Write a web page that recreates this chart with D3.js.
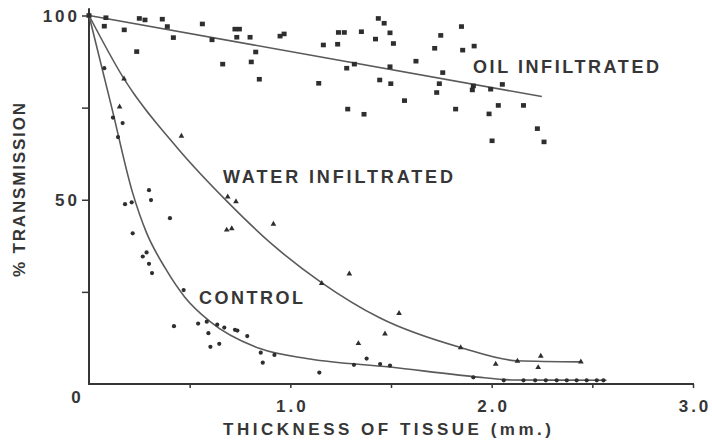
<!DOCTYPE html>
<html>
<head>
<meta charset="utf-8">
<script src="https://cdn.jsdelivr.net/npm/d3@7/dist/d3.min.js"></script>
<style>
  body { margin: 0; background: #fff; }
  svg { display: block; font-family: "Liberation Sans", Arial, sans-serif; font-weight: bold; }
</style>
</head>
<body>
<svg id="chart"></svg>
<script>
// measured data: [thickness mm, % transmission]
const oilPoints = [
  [0, 100], [0.084, 99.4], [0.076, 97.1], [0.175, 96.1], [0.237, 90.2], [0.25, 99.2],
  [0.278, 98.8], [0.364, 99.0], [0.389, 97.0], [0.419, 94.0], [0.563, 97.7], [0.611, 93.4],
  [0.664, 86.8], [0.725, 96.3], [0.747, 96.3], [0.734, 94.1], [0.80, 94.1], [0.828, 90.1],
  [0.806, 87.4], [0.846, 82.7], [0.949, 94.4], [0.969, 95.0], [1.141, 81.6], [1.164, 92.0],
  [1.235, 92.2], [1.239, 95.4], [1.268, 95.4], [1.28, 85.7], [1.285, 74.6], [1.318, 86.8],
  [1.353, 95.6], [1.366, 73.2], [1.437, 99.2], [1.466, 97.9], [1.423, 93.6], [1.495, 95.3],
  [1.512, 92.4], [1.495, 86.1], [1.444, 82.5], [1.499, 81.5], [1.567, 76.9], [1.624, 87.6],
  [1.717, 91.1], [1.747, 94.6], [1.85, 97.0], [1.856, 90.6], [1.913, 91.7], [1.757, 84.5],
  [1.740, 81.5], [1.727, 79.1], [1.821, 74.6], [1.909, 80.9], [1.904, 79.8], [1.995, 80.0],
  [2.053, 81.3], [2.033, 75.6], [1.987, 73.3], [2.002, 66.0], [2.158, 75.6], [2.227, 69.3],
  [2.260, 65.7]
];
const waterPoints = [
  [0.174, 82.8], [0.152, 75.2], [0.459, 67.3], [0.689, 50.8], [0.730, 49.5], [0.684, 41.8],
  [0.709, 42.2], [0.916, 43.4], [1.156, 27.3], [1.293, 29.9], [1.338, 11.0], [1.470, 13.6],
  [1.540, 19.2], [1.846, 9.9], [2.020, 5.4], [2.128, 6.2], [2.244, 7.6], [2.231, 4.5],
  [2.443, 6.0]
];
const controlPoints = [
  [0.076, 85.7], [0.119, 72.3], [0.167, 70.8], [0.144, 67.0], [0.298, 52.6], [0.308, 49.9],
  [0.179, 48.8], [0.212, 49.3], [0.402, 45.0], [0.217, 40.9], [0.267, 34.6], [0.286, 35.7],
  [0.298, 32.6], [0.313, 30.1], [0.470, 25.5], [0.422, 15.7], [0.542, 16.4], [0.585, 16.9],
  [0.593, 13.8], [0.603, 10.1], [0.647, 10.9], [0.637, 16.1], [0.672, 15.3], [0.725, 14.7],
  [0.737, 14.5], [0.786, 13.0], [0.853, 8.5], [0.863, 5.8], [0.921, 7.9], [1.144, 3.1],
  [1.316, 5.2], [1.379, 6.9], [1.446, 5.4], [1.495, 5.0], [1.909, 1.8], [2.06, 1.0],
  [2.158, 1.0], [2.216, 1.0], [2.269, 1.0], [2.323, 1.0], [2.373, 1.0], [2.422, 1.0],
  [2.472, 1.0], [2.522, 1.0], [2.555, 1.0]
];

// hand-fitted curves
const oilLine = [[0, 100], [2.249, 78]];
const waterCurve = [
  [0, 100], [0.174, 82.8], [0.44, 64], [0.687, 49.5], [0.916, 37.6], [1.153, 27.6],
  [1.446, 17.9], [1.846, 9.9], [2.128, 6.3], [2.443, 6.0]
];
const controlCurve = [
  [0, 100], [0.113, 75], [0.216, 52], [0.286, 41], [0.378, 31.5], [0.477, 23.5],
  [0.6, 17], [0.849, 9.6], [1.098, 6.8], [1.495, 4.6], [1.909, 2.0], [2.1, 1.1], [2.57, 1.0]
];

const xTicks = [0.5, 1.0, 1.5, 2.0, 2.5, 3.0];
const xTickLabels = ["", "1.0", "", "2.0", "", "3.0"];
const yTicks = [25, 50, 75, 100];
const yTickLabels = ["", "50", "", "100"];

const width = 712, height = 440;
const ink = "#363636";
const lineInk = "#5a5a5a";

const svg = d3.select("#chart").attr("width", width).attr("height", height);

const x = d3.scaleLinear().domain([0, 3]).range([89, 693]);
const y = d3.scaleLinear().domain([0, 100]).range([384, 15.5]);

// axes
const xAxis = svg.append("g")
  .attr("transform", `translate(0,${y(0)})`)
  .call(d3.axisBottom(x).tickValues(xTicks).tickSize(4)
    .tickFormat((d, i) => xTickLabels[i]));
const yAxis = svg.append("g")
  .attr("transform", `translate(${x(0)},0)`)
  .call(d3.axisLeft(y).tickValues(yTicks).tickSize(7)
    .tickFormat((d, i) => yTickLabels[i]));

[xAxis, yAxis].forEach(g => {
  g.select(".domain").remove();
  g.selectAll(".tick line").attr("stroke", ink).attr("stroke-width", 1.5);
  g.selectAll(".tick text")
    .attr("fill", ink)
    .style("font-size", "17px")
    .style("font-family", "'Liberation Sans', Arial, sans-serif")
    .style("font-weight", "bold")
    .style("letter-spacing", "3px");
});
xAxis.selectAll(".tick text").attr("y", 16).attr("dy", "0.71em").attr("dx", "1.5px");
yAxis.selectAll(".tick text").attr("x", -9).attr("dy", "0.36em");

// axis lines
svg.append("line")
  .attr("x1", x(0)).attr("x2", x(3) + 1)
  .attr("y1", y(0)).attr("y2", y(0))
  .attr("stroke", ink).attr("stroke-width", 2);
svg.append("line")
  .attr("x1", x(0)).attr("x2", x(0))
  .attr("y1", y(0) + 1).attr("y2", y(102))
  .attr("stroke", ink).attr("stroke-width", 2);

// origin label
svg.append("text")
  .attr("x", 76).attr("y", y(0) + 19)
  .attr("text-anchor", "middle")
  .attr("fill", ink)
  .style("font-size", "17px")
  .text("0");

// curves
const line = d3.line().x(d => x(d[0])).y(d => y(d[1]));
const smooth = d3.line().x(d => x(d[0])).y(d => y(d[1])).curve(d3.curveMonotoneX);

svg.append("path").datum(oilLine).attr("d", line)
  .attr("fill", "none").attr("stroke", lineInk).attr("stroke-width", 1.6);
svg.append("path").datum(waterCurve).attr("d", smooth)
  .attr("fill", "none").attr("stroke", lineInk).attr("stroke-width", 1.6);
svg.append("path").datum(controlCurve).attr("d", smooth)
  .attr("fill", "none").attr("stroke", lineInk).attr("stroke-width", 1.6);

// markers
svg.append("g").selectAll("rect").data(oilPoints).join("rect")
  .attr("x", d => x(d[0]) - 2.5).attr("y", d => y(d[1]) - 2.3)
  .attr("width", 5).attr("height", 4.6)
  .attr("fill", "#2e2e2e");

svg.append("g").selectAll("path").data(waterPoints).join("path")
  .attr("d", d3.symbol(d3.symbolTriangle, 14))
  .attr("transform", d => `translate(${x(d[0])},${y(d[1])})`)
  .attr("fill", "#2e2e2e");

svg.append("g").selectAll("circle").data(controlPoints).join("circle")
  .attr("cx", d => x(d[0])).attr("cy", d => y(d[1]))
  .attr("r", 2.1)
  .attr("fill", "#2e2e2e");

// series labels
const labels = [
  { text: "OIL INFILTRATED", x: 473, y: 73, len: 186 },
  { text: "WATER INFILTRATED", x: 223, y: 183, len: 230 },
  { text: "CONTROL", x: 199, y: 304, len: 104 }
];
svg.append("g").selectAll("text").data(labels).join("text")
  .attr("x", d => d.x).attr("y", d => d.y)
  .attr("textLength", d => d.len).attr("lengthAdjust", "spacing")
  .attr("fill", ink)
  .style("font-size", "18px")
  .text(d => d.text);

// axis titles
svg.append("text")
  .attr("x", 223).attr("y", 435)
  .attr("textLength", 328).attr("lengthAdjust", "spacing")
  .attr("fill", ink)
  .style("font-size", "17px")
  .text("THICKNESS OF TISSUE (mm.)");

svg.append("text")
  .attr("transform", "translate(25,190) rotate(-90)")
  .attr("text-anchor", "middle")
  .attr("textLength", 174).attr("lengthAdjust", "spacing")
  .attr("fill", ink)
  .style("font-size", "17px")
  .text("% TRANSMISSION");
</script>
</body>
</html>
